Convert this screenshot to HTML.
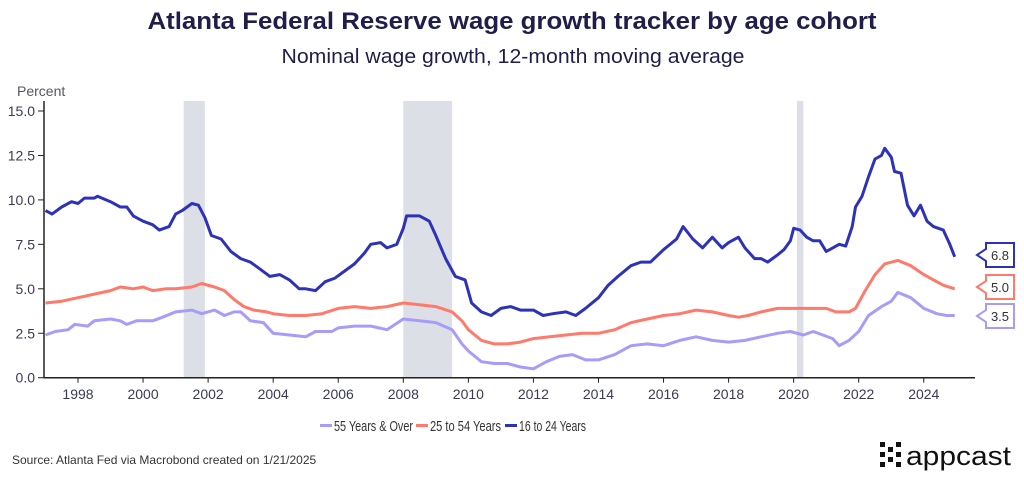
<!DOCTYPE html>
<html><head><meta charset="utf-8"><style>
body{margin:0;background:#fff;width:1024px;height:478px;overflow:hidden;font-family:"Liberation Sans",sans-serif}
svg text{font-family:"Liberation Sans",sans-serif}
</style></head><body>
<svg id="chart" width="1024" height="478">
<text x="512" y="29" text-anchor="middle" font-size="24" font-weight="bold" fill="#1f1d4a" textLength="729" lengthAdjust="spacingAndGlyphs">Atlanta Federal Reserve wage growth tracker by age cohort</text>
<text x="513" y="63" text-anchor="middle" font-size="20" fill="#1f1d4a" textLength="463" lengthAdjust="spacingAndGlyphs">Nominal wage growth, 12-month moving average</text>
<text x="17" y="96" font-size="14" fill="#55556a">Percent</text>
<g id="bands"></g><g id="axes"></g><g id="lines"></g><g id="tags"></g>
<g font-size="15" fill="#333">
<g><rect x="320" y="424" width="12" height="3" fill="#a99bfa"/><text x="334" y="431" textLength="79" lengthAdjust="spacingAndGlyphs">55 Years &amp; Over</text></g>
<g><rect x="416" y="424" width="12" height="3" fill="#ff7a6b"/><text x="430" y="431" textLength="71" lengthAdjust="spacingAndGlyphs">25 to 54 Years</text></g>
<g><rect x="505" y="424" width="12" height="3" fill="#2e32b8"/><text x="519" y="431" textLength="67" lengthAdjust="spacingAndGlyphs">16 to 24 Years</text></g>
</g>
<text x="12" y="464" font-size="12" fill="#333">Source: Atlanta Fed via Macrobond created on 1/21/2025</text>
<g fill="#111">
<rect x="880" y="442" width="5" height="5"/><rect x="880" y="452" width="5" height="5"/><rect x="880" y="462" width="5" height="5"/>
<rect x="888" y="447" width="5" height="5"/><rect x="888" y="457" width="5" height="5"/>
<rect x="896" y="442" width="5" height="5"/><rect x="896" y="452" width="5" height="5"/><rect x="896" y="462" width="5" height="5"/>
<text x="906" y="465" font-size="27" textLength="105" lengthAdjust="spacingAndGlyphs">appcast</text>
</g>
</svg>
<script>
const ns="http://www.w3.org/2000/svg";
const years=[1998,2000,2002,2004,2006,2008,2010,2012,2014,2016,2018,2020,2022,2024];
const yTicks=[0,2.5,5,7.5,10,12.5,15];
const recessions=[[2001.25,2001.9],[2008.0,2009.5],[2020.1,2020.3]];
const t16=[1997.0,1997.2,1997.5,1997.8,1998.0,1998.2,1998.5,1998.6,1999.0,1999.3,1999.5,1999.7,2000.0,2000.3,2000.5,2000.8,2001.0,2001.2,2001.5,2001.7,2001.9,2002.1,2002.4,2002.7,2003.0,2003.3,2003.6,2003.9,2004.2,2004.5,2004.8,2005.0,2005.3,2005.6,2005.9,2006.2,2006.5,2006.8,2007.0,2007.3,2007.5,2007.8,2008.0,2008.1,2008.5,2008.8,2009.0,2009.3,2009.6,2009.9,2010.1,2010.4,2010.7,2011.0,2011.3,2011.6,2012.0,2012.3,2012.6,2013.0,2013.3,2013.6,2014.0,2014.3,2014.6,2015.0,2015.3,2015.6,2016.0,2016.4,2016.6,2016.9,2017.2,2017.5,2017.8,2018.0,2018.3,2018.5,2018.8,2019.0,2019.2,2019.5,2019.7,2019.9,2020.0,2020.2,2020.4,2020.6,2020.8,2021.0,2021.2,2021.4,2021.6,2021.8,2021.9,2022.1,2022.3,2022.5,2022.7,2022.8,2023.0,2023.1,2023.3,2023.5,2023.7,2023.9,2024.1,2024.3,2024.6,2024.8,2024.95];
const v16=[9.4,9.2,9.6,9.9,9.8,10.1,10.1,10.2,9.9,9.6,9.6,9.1,8.8,8.6,8.3,8.5,9.2,9.4,9.8,9.7,9.0,8.0,7.8,7.1,6.7,6.5,6.1,5.7,5.8,5.5,5.0,5.0,4.9,5.4,5.6,6.0,6.4,7.0,7.5,7.6,7.3,7.5,8.4,9.1,9.1,8.8,8.0,6.7,5.7,5.5,4.2,3.7,3.5,3.9,4.0,3.8,3.8,3.5,3.6,3.7,3.5,3.9,4.5,5.2,5.7,6.3,6.5,6.5,7.2,7.8,8.5,7.8,7.3,7.9,7.3,7.6,7.9,7.3,6.7,6.7,6.5,6.9,7.2,7.7,8.4,8.3,7.9,7.7,7.7,7.1,7.3,7.5,7.4,8.5,9.6,10.2,11.3,12.3,12.5,12.9,12.4,11.6,11.5,9.7,9.1,9.7,8.8,8.5,8.3,7.5,6.8];
const t25=[1997.0,1997.5,1998.0,1998.5,1999.0,1999.3,1999.7,2000.0,2000.3,2000.7,2001.0,2001.5,2001.8,2002.2,2002.5,2002.8,2003.1,2003.4,2003.8,2004.0,2004.5,2005.0,2005.5,2006.0,2006.5,2007.0,2007.5,2008.0,2008.5,2009.0,2009.5,2009.8,2010.0,2010.4,2010.8,2011.2,2011.6,2012.0,2012.5,2013.0,2013.5,2014.0,2014.5,2015.0,2015.5,2016.0,2016.5,2017.0,2017.5,2018.0,2018.3,2018.6,2019.0,2019.5,2020.0,2020.5,2021.0,2021.3,2021.7,2021.9,2022.2,2022.5,2022.8,2023.2,2023.6,2024.0,2024.3,2024.6,2024.95];
const v25=[4.2,4.3,4.5,4.7,4.9,5.1,5.0,5.1,4.9,5.0,5.0,5.1,5.3,5.1,4.9,4.4,4.0,3.8,3.7,3.6,3.5,3.5,3.6,3.9,4.0,3.9,4.0,4.2,4.1,4.0,3.7,3.2,2.7,2.1,1.9,1.9,2.0,2.2,2.3,2.4,2.5,2.5,2.7,3.1,3.3,3.5,3.6,3.8,3.7,3.5,3.4,3.5,3.7,3.9,3.9,3.9,3.9,3.7,3.7,3.9,4.9,5.8,6.4,6.6,6.3,5.8,5.5,5.2,5.0];
const t55=[1997.0,1997.3,1997.7,1997.9,1998.3,1998.5,1999.0,1999.3,1999.5,1999.8,2000.3,2000.6,2001.0,2001.5,2001.8,2002.2,2002.5,2002.8,2003.0,2003.3,2003.7,2004.0,2004.5,2005.0,2005.3,2005.8,2006.0,2006.5,2007.0,2007.5,2008.0,2008.5,2009.0,2009.5,2009.8,2010.0,2010.4,2010.8,2011.2,2011.6,2012.0,2012.4,2012.8,2013.2,2013.6,2014.0,2014.5,2015.0,2015.5,2016.0,2016.5,2017.0,2017.5,2018.0,2018.5,2019.0,2019.5,2019.9,2020.3,2020.6,2020.9,2021.2,2021.4,2021.7,2022.0,2022.3,2022.7,2023.0,2023.2,2023.6,2024.0,2024.4,2024.7,2024.95];
const v55=[2.4,2.6,2.7,3.0,2.9,3.2,3.3,3.2,3.0,3.2,3.2,3.4,3.7,3.8,3.6,3.8,3.5,3.7,3.7,3.2,3.1,2.5,2.4,2.3,2.6,2.6,2.8,2.9,2.9,2.7,3.3,3.2,3.1,2.7,1.9,1.5,0.9,0.8,0.8,0.6,0.5,0.9,1.2,1.3,1.0,1.0,1.3,1.8,1.9,1.8,2.1,2.3,2.1,2.0,2.1,2.3,2.5,2.6,2.4,2.6,2.4,2.2,1.8,2.1,2.6,3.5,4.0,4.3,4.8,4.5,3.9,3.6,3.5,3.5];

const X=yr=>78+(yr-1998)*32.53;
const Y=v=>377.7-v*17.78;
const mk=(tag,attrs,parent)=>{const e=document.createElementNS(ns,tag);for(const k in attrs)e.setAttribute(k,attrs[k]);document.getElementById(parent).appendChild(e);return e;};

recessions.forEach(r=>{
  const e=mk('rect',{x:X(r[0]),y:101,width:X(r[1])-X(r[0]),height:Y(0)-101,fill:'#dcdfe6'},'bands');
  
  
});
const ax=mk('path',{d:`M44 101 V${Y(0)} H975`,stroke:'#222',fill:'none','stroke-width':1.5},'axes');


yTicks.forEach(v=>{
  mk('line',{x1:38,x2:44,y1:Y(v),y2:Y(v),stroke:'#222'},'axes');
  const t=mk('text',{x:35,y:Y(v)+5,'text-anchor':'end','font-size':14,fill:'#3a3a55'},'axes');
  t.textContent=v.toFixed(1);
  
  
});
years.forEach(y=>{
  mk('line',{x1:X(y),x2:X(y),y1:Y(0),y2:Y(0)+5,stroke:'#222'},'axes');
  const t=mk('text',{x:X(y),y:399,'text-anchor':'middle','font-size':14,fill:'#3a3a55'},'axes');
  t.textContent=y;
  
  
});
const series=[[t55,v55,'#a99bfa','line-55-over'],[t25,v25,'#ff7a6b','line-25-54'],[t16,v16,'#2e32b8','line-16-24']];
series.forEach(s=>{
  const d=s[0].map((t,i)=>(i?'L':'M')+X(t).toFixed(1)+' '+Y(s[1][i]).toFixed(1)).join(' ');
  const p=mk('path',{d:d,stroke:s[2],fill:'none','stroke-width':3,'stroke-linejoin':'round'},'lines');
  
  
});
const tagY=[255,287,316];
[[v16,'#2e32b8'],[v25,'#ff7a6b'],[v55,'#a99bfa']].forEach((s,i)=>{
  const cy=tagY[i];
  const g=mk('g',{},'tags');
  
  
  const p=document.createElementNS(ns,'path');
  p.setAttribute('d',`M977 ${cy} L986 ${cy-6} V${cy-12} H1014 V${cy+12} H986 V${cy+6} Z`);
  p.setAttribute('fill','#fff');p.setAttribute('stroke',s[1]);p.setAttribute('stroke-width',2);
  g.appendChild(p);
  const t=document.createElementNS(ns,'text');
  t.setAttribute('x',1000);t.setAttribute('y',cy+5);t.setAttribute('text-anchor','middle');t.setAttribute('font-size',13);t.setAttribute('fill','#333');
  t.textContent=s[0][s[0].length-1].toFixed(1);
  g.appendChild(t);
});
</script>
</body></html>
